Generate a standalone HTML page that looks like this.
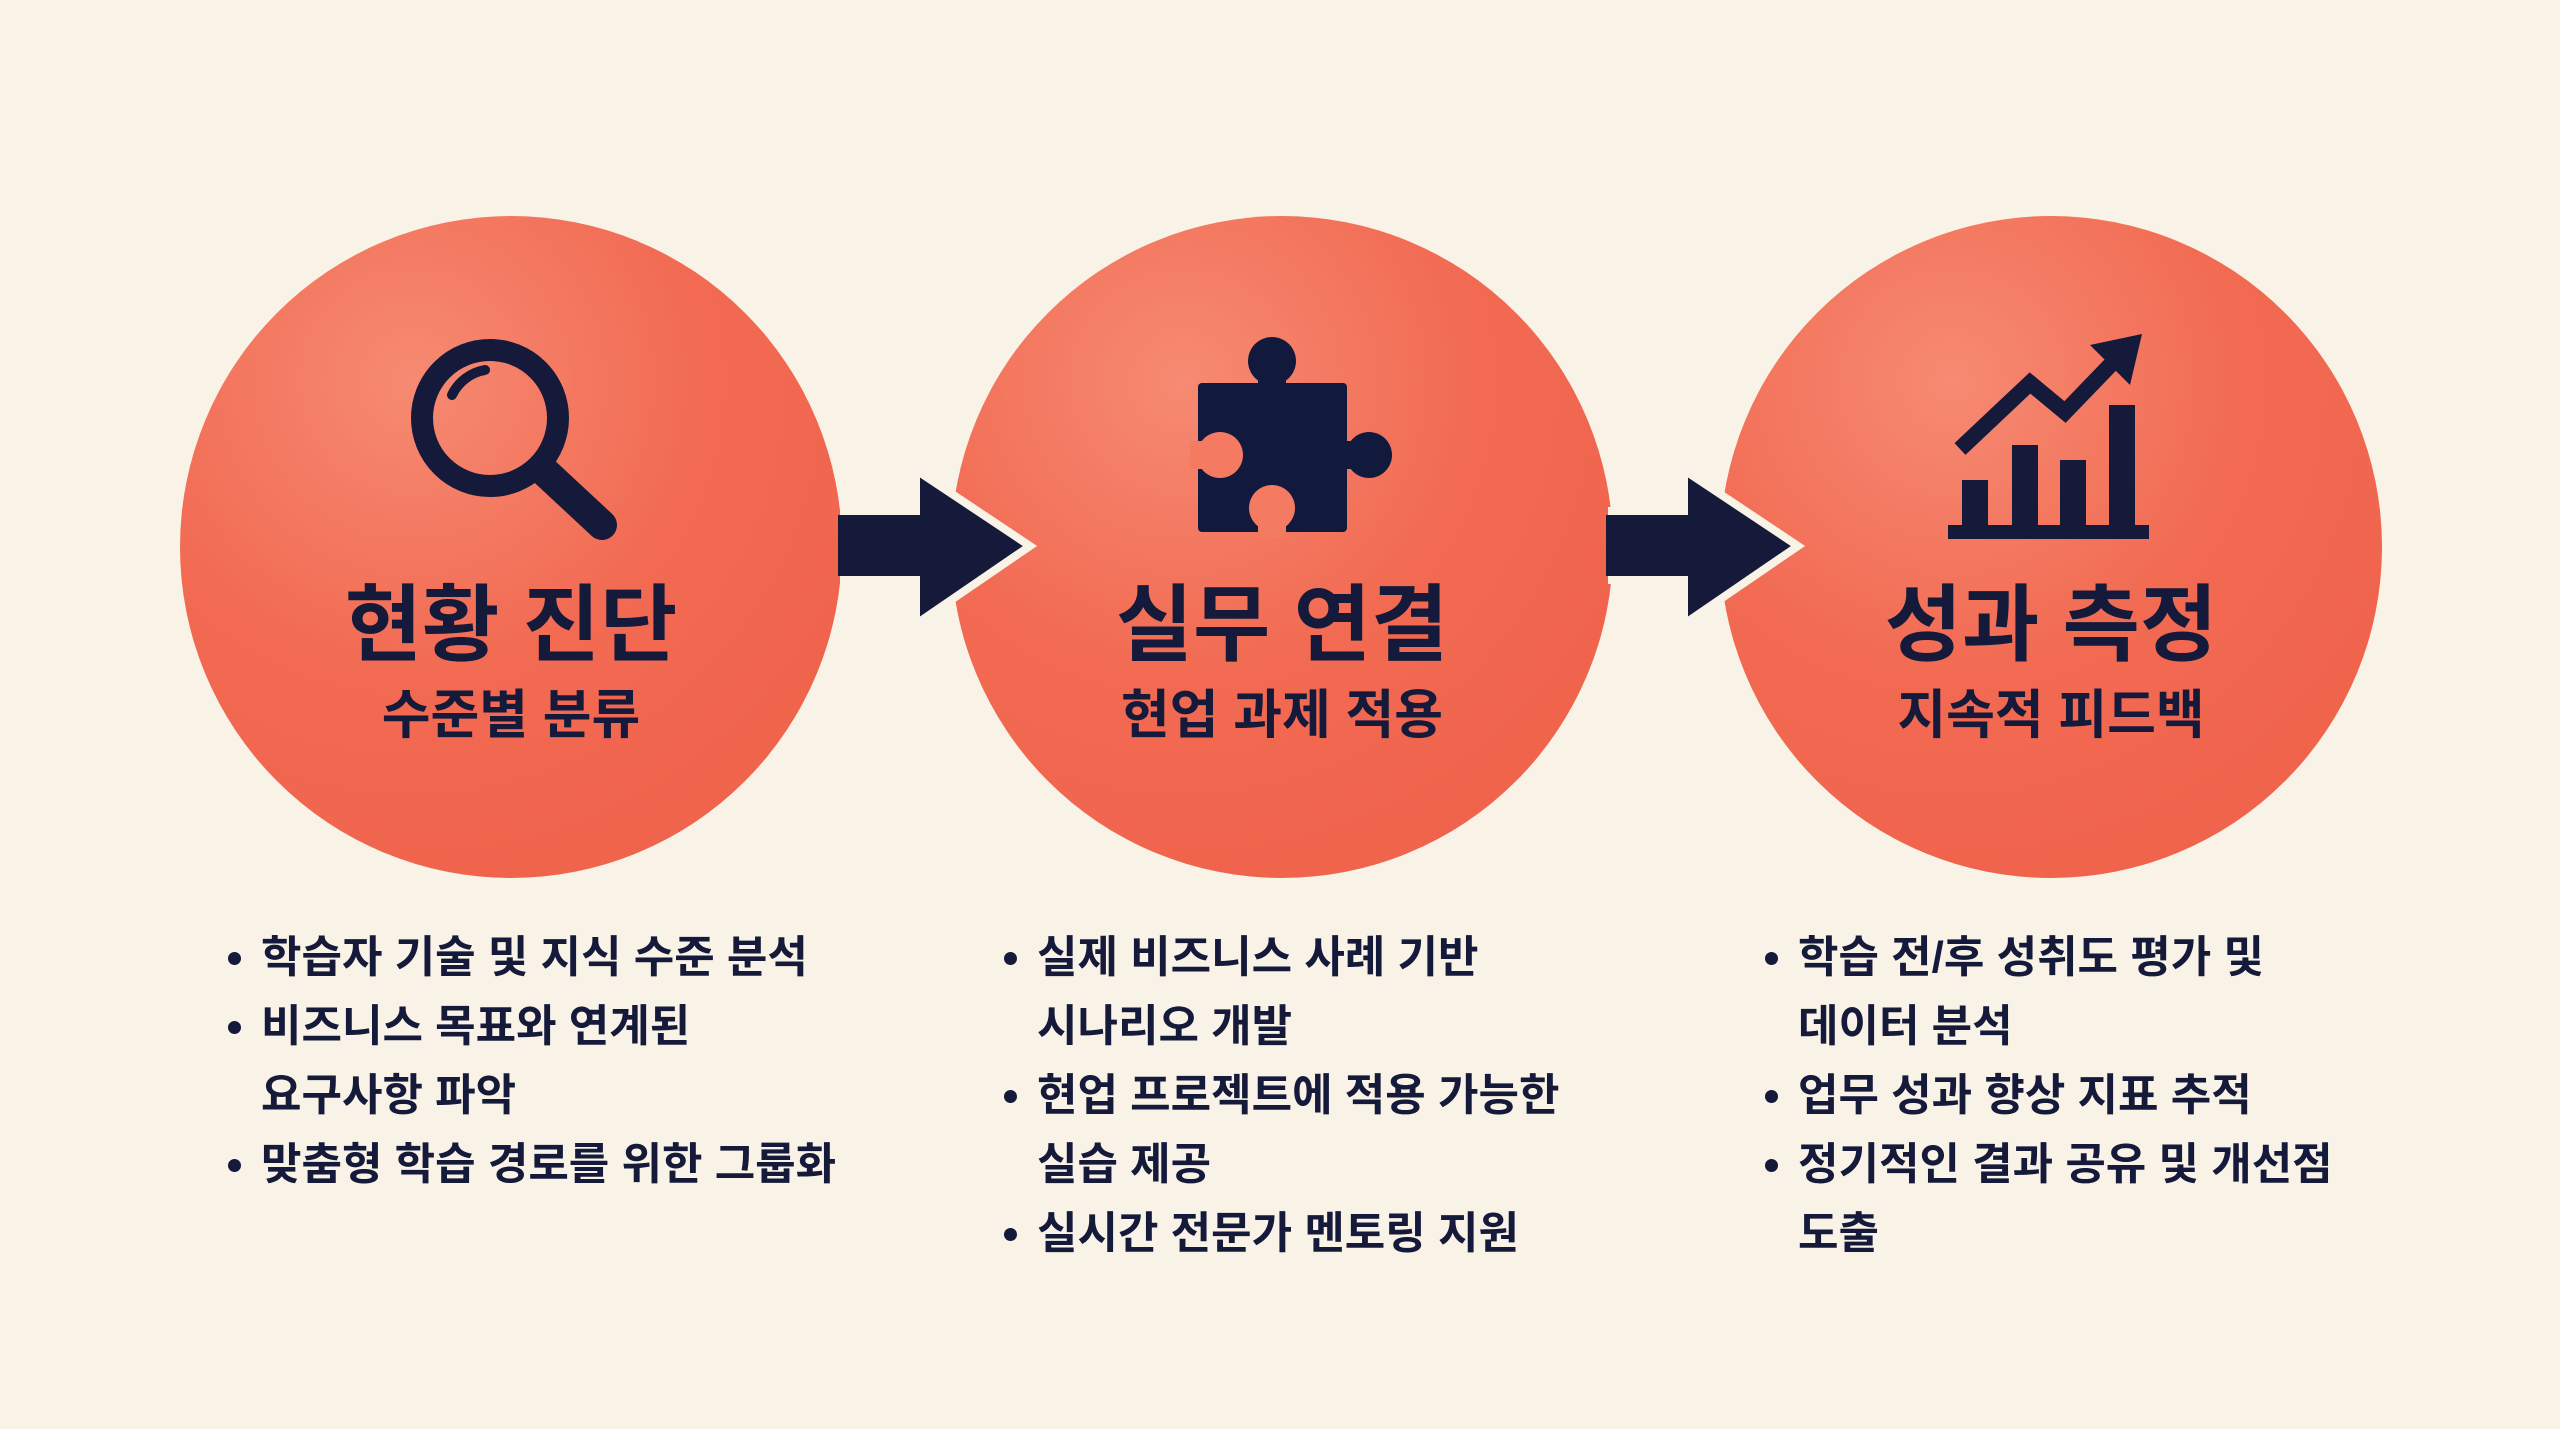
<!DOCTYPE html>
<html><head><meta charset="utf-8"><style>
html,body{margin:0;padding:0;}
body{width:2560px;height:1429px;background:#f8f3e6;position:relative;overflow:hidden;font-family:"Liberation Sans","Noto Sans CJK KR",sans-serif;color:#15193a;}
.c{position:absolute;width:662px;height:662px;border-radius:50%;top:216px;background:radial-gradient(circle at 35% 25%,#f68a72 0%,#f26a52 45%,#ef5f48 100%);}
.t{position:absolute;width:700px;text-align:center;font-weight:bold;font-size:84px;top:570px;line-height:110px;}
.s{position:absolute;width:700px;text-align:center;font-weight:bold;font-size:53px;top:683px;line-height:66px;}
ul{position:absolute;margin:0;padding:0;list-style:none;top:923px;font-size:44px;font-weight:bold;line-height:69px;}
li{position:relative;padding-left:0;}
li.b::before{content:"";position:absolute;left:-33px;top:29px;width:13px;height:13px;border-radius:50%;background:#15193a;}
</style></head><body>
<div class="c" style="left:180px"></div>
<div class="c" style="left:951px"></div>
<div class="c" style="left:1720px"></div>
<svg width="2560" height="1429" style="position:absolute;left:0;top:0">
<g fill="#15193a" stroke="#f8f3e6" stroke-width="8" stroke-linejoin="miter">
<polygon points="844,511 916,511 916,470 1030,546 916,624 916,580 844,580"/>
<polygon points="1612,511 1684,511 1684,470 1798,546 1684,624 1684,580 1612,580"/>
</g>
<rect x="838" y="515" width="10" height="61" fill="#15193a"/>
<rect x="1606" y="515" width="12" height="61" fill="#15193a"/>
<!-- magnifier -->
<circle cx="490" cy="418" r="68" fill="none" stroke="#15193a" stroke-width="22"/>
<path d="M452 395 A45 45 0 0 1 485 370" fill="none" stroke="#15193a" stroke-width="10" stroke-linecap="round"/>
<line x1="545" y1="472" x2="602" y2="525" stroke="#15193a" stroke-width="30" stroke-linecap="round"/>
<!-- puzzle -->
<g fill="#111a3d">
<rect x="1198" y="383" width="149" height="149" rx="4"/>
<circle cx="1272" cy="361" r="24"/>
<rect x="1258" y="370" width="28" height="20"/>
<circle cx="1369" cy="455" r="23"/>
<rect x="1340" y="441" width="20" height="28"/>
</g>
<circle cx="1220" cy="455" r="23" fill="#f47a62"/>
<rect x="1190" y="441" width="30" height="28" fill="#f47a62"/>
<circle cx="1272" cy="508" r="23" fill="#f47a62"/>
<rect x="1258" y="508" width="28" height="30" fill="#f47a62"/>
<!-- chart -->
<g fill="#15193a">
<rect x="1948" y="525" width="201" height="14"/>
<rect x="1962" y="480" width="26" height="48"/>
<rect x="2012" y="445" width="26" height="83"/>
<rect x="2060" y="460" width="26" height="68"/>
<rect x="2109" y="405" width="26" height="123"/>
</g>
<polyline points="1960,449 2030,383 2065,412 2120,355" fill="none" stroke="#15193a" stroke-width="16" stroke-linejoin="miter"/>
<polygon points="2142,334 2090,345 2130,385" fill="#15193a"/>
</svg>
<div class="t" style="left:161px">현황 진단</div>
<div class="s" style="left:161px">수준별 분류</div>
<div class="t" style="left:932px">실무 연결</div>
<div class="s" style="left:932px">현업 과제 적용</div>
<div class="t" style="left:1701px">성과 측정</div>
<div class="s" style="left:1701px">지속적 피드백</div>
<ul style="left:261px">
<li class="b">학습자 기술 및 지식 수준 분석</li>
<li class="b">비즈니스 목표와 연계된</li>
<li>요구사항 파악</li>
<li class="b">맞춤형 학습 경로를 위한 그룹화</li>
</ul>
<ul style="left:1037px">
<li class="b">실제 비즈니스 사례 기반</li>
<li>시나리오 개발</li>
<li class="b">현업 프로젝트에 적용 가능한</li>
<li>실습 제공</li>
<li class="b">실시간 전문가 멘토링 지원</li>
</ul>
<ul style="left:1798px">
<li class="b">학습 전/후 성취도 평가 및</li>
<li>데이터 분석</li>
<li class="b">업무 성과 향상 지표 추적</li>
<li class="b">정기적인 결과 공유 및 개선점</li>
<li>도출</li>
</ul>
</body></html>
